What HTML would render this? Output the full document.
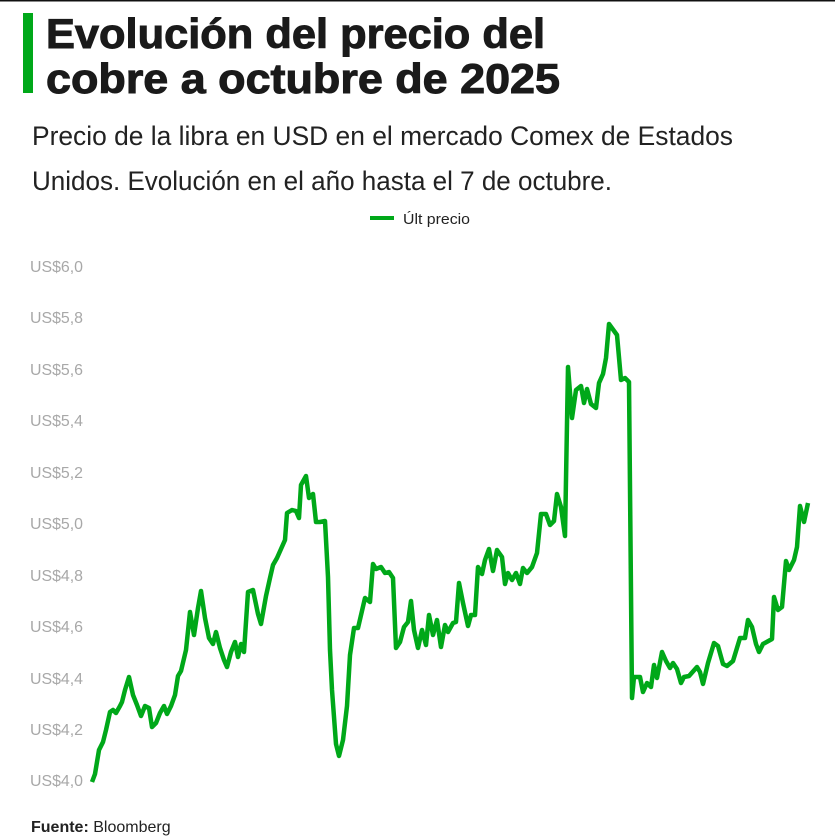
<!DOCTYPE html>
<html><head><meta charset="utf-8"><style>
html,body{margin:0;padding:0;background:#fff;width:835px;height:839px;overflow:hidden}
svg{display:block}
text{font-family:"Liberation Sans",sans-serif}
</style></head><body>
<svg width="835" height="839" viewBox="0 0 835 839" xmlns="http://www.w3.org/2000/svg">
<rect x="0" y="0" width="835" height="1.5" fill="#111"/>
<rect x="23" y="13" width="10" height="80" fill="#00a819"/>
<text x="46" y="48" font-size="42" font-weight="bold" fill="#1a1a1a" stroke="#1a1a1a" stroke-width="1" textLength="499" lengthAdjust="spacingAndGlyphs">Evolución del precio del</text>
<text x="46" y="93" font-size="42" font-weight="bold" fill="#1a1a1a" stroke="#1a1a1a" stroke-width="1" textLength="514" lengthAdjust="spacingAndGlyphs">cobre a octubre de 2025</text>
<text x="32" y="145" font-size="27" fill="#222" textLength="701" lengthAdjust="spacingAndGlyphs">Precio de la libra en USD en el mercado Comex de Estados</text>
<text x="32" y="190" font-size="27" fill="#222" textLength="580" lengthAdjust="spacingAndGlyphs">Unidos. Evolución en el año hasta el 7 de octubre.</text>
<rect x="370" y="216" width="24" height="4" fill="#00a819"/>
<text x="403" y="224" font-size="15" fill="#222" textLength="67" lengthAdjust="spacingAndGlyphs">Últ precio</text>
<g font-size="16" fill="#a8a8a8">
<text x="30" y="272" textLength="53" lengthAdjust="spacingAndGlyphs">US$6,0</text>
<text x="30" y="323" textLength="53" lengthAdjust="spacingAndGlyphs">US$5,8</text>
<text x="30" y="375" textLength="53" lengthAdjust="spacingAndGlyphs">US$5,6</text>
<text x="30" y="426" textLength="53" lengthAdjust="spacingAndGlyphs">US$5,4</text>
<text x="30" y="478" textLength="53" lengthAdjust="spacingAndGlyphs">US$5,2</text>
<text x="30" y="529" textLength="53" lengthAdjust="spacingAndGlyphs">US$5,0</text>
<text x="30" y="581" textLength="53" lengthAdjust="spacingAndGlyphs">US$4,8</text>
<text x="30" y="632" textLength="53" lengthAdjust="spacingAndGlyphs">US$4,6</text>
<text x="30" y="684" textLength="53" lengthAdjust="spacingAndGlyphs">US$4,4</text>
<text x="30" y="735" textLength="53" lengthAdjust="spacingAndGlyphs">US$4,2</text>
<text x="30" y="786" textLength="53" lengthAdjust="spacingAndGlyphs">US$4,0</text>
</g>
<polyline fill="none" stroke="#00a819" stroke-width="4.5" stroke-linejoin="round" points="
92,782 95,774 99,750 103,742 106,730 110,712 113,710 116,713 120,706 122,702 125,690 129,677 133,695 137,705 141,716 145,706 149,708 152,727 156,723 160,713 164,706 167,714 171,706 175,695 178,676 181,671 186,650 190,612 194,635 198,608 201,591 205,618 209,638 213,644 216,632 220,648 224,660 227,667 231,652 235,642 238,657 241,644 244,652 248,592 253,590 258,614 261,624 266,596 270,578 273,565 277,558 281,549 285,540 287,513 292,510 296,511 299,518 301,485 306,476 309,498 313,494 316,522 320,522 325,521 328,577 330,650 332,690 336,744 339,756 343,740 347,706 350,655 354,628 358,628 365,598 370,602 373,564 376,569 381,567 385,573 389,572 393,578 396,648 400,642 404,627 408,622 411,601 414,630 418,648 422,630 426,645 429,615 433,635 437,620 441,647 445,625 448,632 453,623 456,622 459,583 463,603 468,626 471,615 475,615 478,567 482,574 485,560 489,549 493,571 497,550 502,557 505,584 508,573 512,580 516,573 520,584 523,568 527,573 532,567 537,553 541,514 546,514 550,525 554,521 557,494 561,507 565,536 568,367 572,418 576,390 581,386 584,403 587,389 591,404 596,408 599,383 603,374 606,358 609,324 617,335 621,380 625,378 629,382 632,698 634,677 640,677 643,692 647,683 651,687 654,665 657,678 662,652 666,661 670,668 673,663 677,669 681,683 684,677 689,676 697,667 700,672 703,684 708,663 714,643 718,646 723,664 727,666 733,661 740,638 745,638 748,620 752,627 756,644 759,652 763,644 772,639 774,597 778,610 782,607 786,561 789,570 794,560 797,547 800,506 804,522 808,503"/>
<text x="31" y="832" font-size="16" fill="#222"><tspan font-weight="bold">Fuente:</tspan> Bloomberg</text>
</svg>
</body></html>
